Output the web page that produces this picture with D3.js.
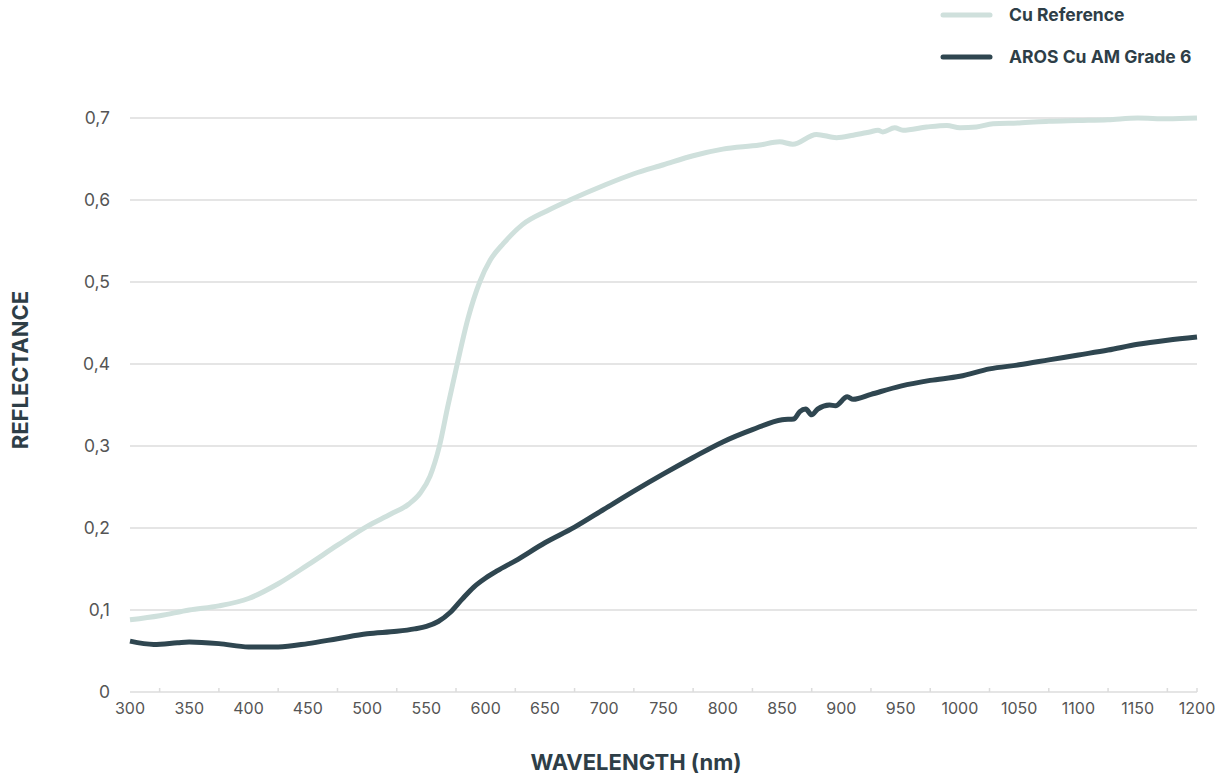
<!DOCTYPE html>
<html>
<head>
<meta charset="utf-8">
<script src="https://cdn.jsdelivr.net/npm/d3@7"></script>
<style>
  body { margin: 0; background: #fff; }
  svg { display: block; font-family: Inter, "Noto Sans", sans-serif; }
</style>
</head>
<body>
<div id="chart"></div>
<script>
// wavelengths (nm) and reflectance
const refNm = [300, 325, 350, 375, 400, 425, 450, 475, 500, 520, 535, 545, 553, 561, 568, 576, 585, 595, 604, 615, 631, 652, 671, 700, 725, 750, 775, 800, 831, 848, 859, 879, 896, 910, 924, 931, 935, 945, 952, 972, 989, 1000, 1014, 1028, 1050, 1075, 1100, 1125, 1150, 1175, 1200];
const refVal = [0.088, 0.093, 0.100, 0.105, 0.114, 0.132, 0.155, 0.179, 0.202, 0.217, 0.229, 0.243, 0.263, 0.300, 0.348, 0.400, 0.455, 0.500, 0.527, 0.547, 0.570, 0.587, 0.600, 0.618, 0.632, 0.643, 0.654, 0.662, 0.667, 0.671, 0.668, 0.680, 0.676, 0.679, 0.683, 0.685, 0.683, 0.688, 0.685, 0.689, 0.691, 0.688, 0.689, 0.693, 0.694, 0.696, 0.697, 0.698, 0.700, 0.699, 0.700];

const arosNm = [300, 320, 340, 350, 375, 400, 425, 450, 475, 500, 525, 540, 550, 560, 570, 580, 590, 600, 610, 625, 650, 675, 700, 725, 750, 775, 800, 825, 850, 860, 865, 870, 875, 880, 890, 895, 905, 910, 925, 950, 975, 1000, 1025, 1050, 1075, 1100, 1125, 1150, 1175, 1200];
const arosVal = [0.062, 0.058, 0.060, 0.061, 0.059, 0.055, 0.055, 0.059, 0.065, 0.071, 0.074, 0.077, 0.080, 0.086, 0.097, 0.113, 0.128, 0.139, 0.148, 0.160, 0.182, 0.201, 0.223, 0.245, 0.266, 0.286, 0.305, 0.320, 0.332, 0.333, 0.342, 0.345, 0.338, 0.345, 0.350, 0.349, 0.360, 0.357, 0.363, 0.373, 0.380, 0.385, 0.394, 0.399, 0.405, 0.411, 0.417, 0.424, 0.429, 0.433];

const xLabels = [300, 350, 400, 450, 500, 550, 600, 650, 700, 750, 800, 850, 900, 950, 1000, 1050, 1100, 1150, 1200];
const xMinorTicks = [325, 375, 425, 475, 525, 575, 625, 675, 725, 775, 825, 875, 925, 975, 1025, 1075, 1125, 1175, 1200];
const yTicks = [0, 0.1, 0.2, 0.3, 0.4, 0.5, 0.6, 0.7];

const seriesNames = ["Cu Reference", "AROS Cu AM Grade 6"];
const seriesColors = ["#cfe0dc", "#2f4650"];

const W = 1220, H = 775;
const plot = {left: 130, right: 1197, top: 118, bottom: 692};

const svg = d3.select("#chart").append("svg")
    .attr("width", W)
    .attr("height", H);

const x = d3.scaleLinear().domain([300, 1200]).range([plot.left, plot.right]);
const y = d3.scaleLinear().domain([0, 0.7]).range([plot.bottom, plot.top]);

// gridlines
svg.append("g")
    .selectAll("line")
    .data(yTicks)
    .join("line")
    .attr("x1", plot.left)
    .attr("x2", plot.right)
    .attr("y1", d => y(d))
    .attr("y2", d => y(d))
    .attr("stroke", "#dcdcdc")
    .attr("stroke-width", 1.5);

// y labels
svg.append("g")
    .selectAll("text")
    .data(yTicks)
    .join("text")
    .attr("x", 110)
    .attr("y", d => y(d))
    .attr("dy", "0.35em")
    .attr("text-anchor", "end")
    .attr("fill", "#555")
    .style("font-size", "17.5px")
    .text(d => d === 0 ? "0" : d3.format(".1f")(d).replace(".", ","));

// x minor ticks
svg.append("g")
    .selectAll("line")
    .data(xMinorTicks)
    .join("line")
    .attr("x1", d => x(d))
    .attr("x2", d => x(d))
    .attr("y1", plot.bottom)
    .attr("y2", plot.bottom - 4)
    .attr("stroke", "#dcdcdc")
    .attr("stroke-width", 1.5);

// x labels
svg.append("g")
    .selectAll("text")
    .data(xLabels)
    .join("text")
    .attr("x", d => x(d))
    .attr("y", 708)
    .attr("dy", "0.35em")
    .attr("text-anchor", "middle")
    .attr("fill", "#555")
    .style("font-size", "16px")
    .text(d => d);

// lines
const line = d3.line()
    .x(d => x(d[0]))
    .y(d => y(d[1]))
    .curve(d3.curveMonotoneX);

const series = [
    d3.zip(refNm, refVal),
    d3.zip(arosNm, arosVal)
];

svg.append("g")
    .selectAll("path")
    .data(series)
    .join("path")
    .attr("d", line)
    .attr("fill", "none")
    .attr("stroke", (d, i) => seriesColors[i])
    .attr("stroke-width", 5)
    .attr("stroke-linejoin", "round");

// legend
const legend = svg.append("g")
    .selectAll("g")
    .data(seriesNames)
    .join("g")
    .attr("transform", (d, i) => `translate(943, ${15 + i * 42})`);

legend.append("line")
    .attr("x1", 0)
    .attr("x2", 47)
    .attr("stroke", (d, i) => seriesColors[i])
    .attr("stroke-width", 5)
    .attr("stroke-linecap", "round");

legend.append("text")
    .attr("x", 66)
    .attr("dy", "0.35em")
    .attr("fill", "#2e3e47")
    .style("font-size", "17.5px")
    .style("font-weight", "700")
    .text(d => d);

// axis titles
svg.append("text")
    .attr("transform", "translate(20, 370) rotate(-90)")
    .attr("dy", "0.35em")
    .attr("text-anchor", "middle")
    .attr("fill", "#2e3e47")
    .style("font-size", "22px")
    .style("font-weight", "700")
    .text("REFLECTANCE");

svg.append("text")
    .attr("x", 636)
    .attr("y", 762)
    .attr("dy", "0.35em")
    .attr("text-anchor", "middle")
    .attr("fill", "#2e3e47")
    .style("font-size", "22px")
    .style("font-weight", "700")
    .text("WAVELENGTH (nm)");
</script>
</body>
</html>
